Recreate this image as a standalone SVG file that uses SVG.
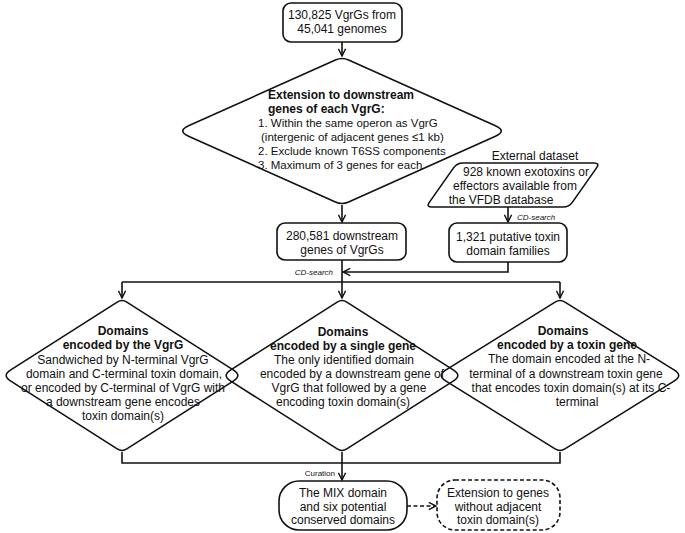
<svg xmlns="http://www.w3.org/2000/svg" width="685" height="533" viewBox="0 0 685 533">
<style>
.shape{fill:none;stroke:#111;stroke-width:1.6}
.box{fill:#fff;stroke:#111;stroke-width:1.6}
.line{fill:none;stroke:#111;stroke-width:1.6}
.dash{fill:none;stroke:#111;stroke-width:1.6;stroke-dasharray:4 2.5}
text{font-family:"Liberation Sans",Arial,sans-serif;fill:#111}
.t12{font-size:12px}
.t115{font-size:11.5px}
.b{font-weight:bold}
.lab{font-size:8px;font-style:italic}
.lab2{font-size:8px}
.c{text-anchor:middle}
</style>
<defs>
<marker id="arr" viewBox="0 0 10 10" refX="9" refY="5" markerWidth="9" markerHeight="9" markerUnits="userSpaceOnUse" orient="auto">
<path d="M1,1 L9,5 L1,9" fill="none" stroke="#111" stroke-width="1.6"/>
</marker>
</defs>

<g id="connectors">
<line class="line" x1="342" y1="42" x2="342" y2="56" marker-end="url(#arr)"/>
<line class="line" x1="342" y1="205" x2="342" y2="222" marker-end="url(#arr)"/>
<line class="line" x1="508" y1="207" x2="508" y2="222" marker-end="url(#arr)"/>
<polyline class="line" points="508,262 508,272 343,272" marker-end="url(#arr)"/>
<line class="line" x1="342" y1="260" x2="342" y2="298" marker-end="url(#arr)"/>
<line class="line" x1="122" y1="282" x2="560" y2="282"/>
<line class="line" x1="122" y1="282" x2="122" y2="298" marker-end="url(#arr)"/>
<line class="line" x1="560" y1="282" x2="560" y2="298" marker-end="url(#arr)"/>
<polyline class="line" points="122,452 122,463 560,463 560,452"/>
<line class="line" x1="342" y1="452" x2="342" y2="480" marker-end="url(#arr)"/>
<line class="dash" x1="407" y1="506" x2="436" y2="506" marker-end="url(#arr)"/>
<text class="lab" x="517" y="220">CD-search</text>
<text class="lab" x="333" y="275" text-anchor="end">CD-search</text>
<text class="lab2" x="335" y="476" text-anchor="end">Curation</text>
</g>

<g id="start">
<rect class="box" x="283" y="3" width="119" height="39" rx="8"/>
<text class="t12 c" x="342" y="19">130,825 VgrGs from</text>
<text class="t12 c" x="342" y="33">45,041 genomes</text>
</g>

<g id="extension">
<path class="shape" d="M348.6,59.96 L495.45,125.82 Q507,131 495.45,136.18 L348.6,202.04 Q342,205 335.4,202.04 L188.55,136.18 Q177,131 188.55,125.82 L335.4,59.96 Q342,57 348.6,59.96 Z"/>
<text class="t12 b" x="268" y="99">Extension to downstream</text>
<text class="t12 b" x="268" y="113">genes of each VgrG:</text>
<text class="t115" x="258" y="126.5">1. Within the same operon as VgrG</text>
<text class="t115" x="261" y="140.5">(intergenic of adjacent genes ≤1 kb)</text>
<text class="t115" x="258" y="155">2. Exclude known T6SS components</text>
<text class="t115" x="258" y="168.5">3. Maximum of 3 genes for each</text>
</g>

<g id="external">
<text class="t12 c" x="535" y="160">External dataset</text>
<path class="shape" d="M463,163 L594,163 Q600,163 596.54,167.91 L572.46,202.09 Q569,207 563,207 L432,207 Q426,207 429.46,202.09 L453.54,167.91 Q457,163 463,163 Z"/>
<text class="t12 c" x="526" y="176">928 known exotoxins or</text>
<text class="t12 c" x="515" y="190">effectors available from</text>
<text class="t12 c" x="501" y="203.5">the VFDB database</text>
</g>

<g id="toxinfamilies">
<rect class="box" x="449" y="223" width="118" height="39" rx="8"/>
<text class="t12 c" x="508" y="241">1,321 putative toxin</text>
<text class="t12 c" x="508" y="255">domain families</text>
</g>

<g id="downstream">
<rect class="box" x="277" y="223" width="129" height="37" rx="8"/>
<text class="t12 c" x="342" y="240">280,581 downstream</text>
<text class="t12 c" x="342" y="253.5">genes of VgrGs</text>
</g>

<g id="vgrg">
<path class="shape" d="M126.8,302.06 L233.6,370.14 Q242,375.5 233.6,380.86 L126.8,448.94 Q122,452 117.2,448.94 L10.4,380.86 Q2,375.5 10.4,370.14 L117.2,302.06 Q122,299 126.8,302.06 Z"/>
<text class="t12 b c" x="123" y="335">Domains</text>
<text class="t12 b c" x="123" y="349">encoded by the VgrG</text>
<text class="t12 c" x="123" y="363.5">Sandwiched by N-terminal VgrG</text>
<text class="t12 c" x="124" y="377.5">domain and C-terminal toxin domain,</text>
<text class="t12 c" x="123" y="392">or encoded by C-terminal of VgrG with</text>
<text class="t12 c" x="123" y="406">a downstream gene encodes</text>
<text class="t12 c" x="123" y="420">toxin domain(s)</text>
</g>

<g id="single">
<path class="shape" d="M346.8,302.06 L453.6,370.14 Q462,375.5 453.6,380.86 L346.8,448.94 Q342,452 337.2,448.94 L230.4,380.86 Q222,375.5 230.4,370.14 L337.2,302.06 Q342,299 346.8,302.06 Z"/>
<text class="t12 b c" x="343" y="336">Domains</text>
<text class="t12 b c" x="343" y="349.5">encoded by a single gene</text>
<text class="t12 c" x="344" y="364">The only identified domain</text>
<text class="t12 c" x="352" y="378">encoded by a downstream gene of</text>
<text class="t12 c" x="349" y="392">VgrG that followed by a gene</text>
<text class="t12 c" x="343" y="406">encoding toxin domain(s)</text>
</g>

<g id="toxingene">
<path class="shape" d="M564.92,302.06 L674.39,370.14 Q683,375.5 674.39,380.86 L564.92,448.94 Q560,452 555.08,448.94 L445.61,380.86 Q437,375.5 445.61,370.14 L555.08,302.06 Q560,299 564.92,302.06 Z"/>
<text class="t12 b c" x="563" y="335">Domains</text>
<text class="t12 b c" x="567" y="349">encoded by a toxin gene</text>
<text class="t12 c" x="569" y="363">The domain encoded at the N-</text>
<text class="t12 c" x="566" y="377.5">terminal of a downstream toxin gene</text>
<text class="t12 c" x="571" y="392">that encodes toxin domain(s) at its C-</text>
<text class="t12 c" x="577" y="406">terminal</text>
</g>

<g id="mix">
<rect class="box" x="279" y="481" width="128" height="49" rx="20"/>
<text class="t12 c" x="343" y="497">The MIX domain</text>
<text class="t12 c" x="343" y="510.5">and six potential</text>
<text class="t12 c" x="343" y="524">conserved domains</text>
</g>

<g id="extension2">
<rect class="dash" x="437" y="480" width="123" height="50" rx="18"/>
<text class="t12 c" x="498" y="497">Extension to genes</text>
<text class="t12 c" x="498" y="510.5">without adjacent</text>
<text class="t12 c" x="498" y="524">toxin domain(s)</text>
</g>
</svg>
